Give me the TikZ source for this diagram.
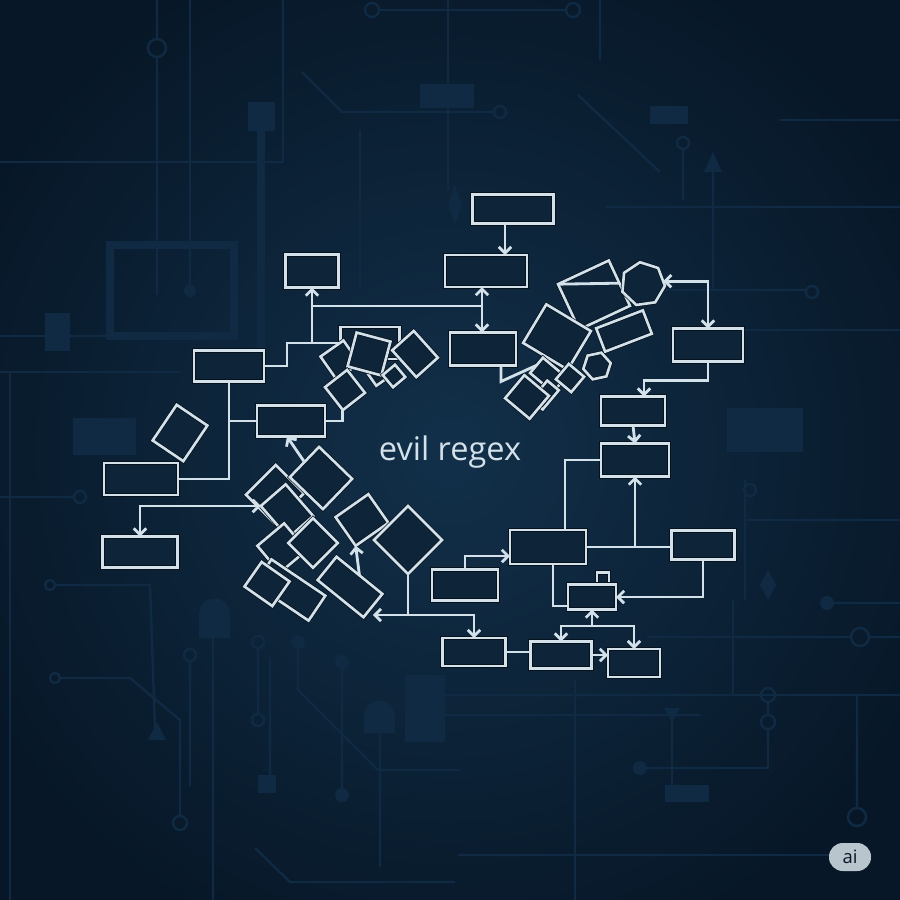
\documentclass[tikz,border=0pt]{standalone}
\usepackage{fontspec}
\setmainfont{Open Sans}
\usetikzlibrary{arrows.meta,calc,positioning,shapes.geometric}
\definecolor{bgin}{HTML}{12304A}
\definecolor{bgout}{HTML}{071727}
\definecolor{wirec}{HTML}{D3E1EA}
\definecolor{circ}{HTML}{0F2A42}
\definecolor{boxin}{HTML}{0E2439}
\definecolor{rim}{HTML}{07121D}
\definecolor{badge}{HTML}{B9C5CD}
\tikzset{wire/.style={draw=wirec, line width=1.6pt},
  arr/.style={wire, -{Straight Barb[length=3.5pt,width=7pt]}},
  darr/.style={wire, {Straight Barb[length=3.5pt,width=7pt]}-{Straight Barb[length=3.5pt,width=7pt]}},
  bx/.style 2 args={draw=rim, double=wirec, double distance=1.5pt, line width=0.4pt, fill=boxin,
    minimum width=#1*0.2mm, minimum height=#2*0.2mm, inner sep=0pt, outer sep=0pt},
  blob/.style={draw=rim, double=wirec, double distance=1.5pt, line width=0.4pt, fill=boxin,
    regular polygon, inner sep=0pt, outer sep=0pt},
  faint/.style={draw=circ, line width=1.4pt}}

\begin{document}
\begin{tikzpicture}[x=0.2mm, y=-0.2mm]
  \useasboundingbox (0,0) rectangle (900,900);
  \clip (0,0) rectangle (900,900);
  \shade[inner color=bgin, outer color=bgout] (-80,-80) rectangle (980,980);

  % faint circuit board behind
  \draw[faint] (157,0) -- (157,39) (157,56) -- (157,295) (157,48) circle[radius=9];
  \draw[faint] (190,0) -- (190,286) (0,162) -- (283,162) (283,0) -- (283,162);
  \fill[circ] (190,291) circle[radius=6];
  \draw[faint, line width=4pt] (110,245) rectangle (234,336);
  \draw[faint] (0,336) -- (108,336);
  \fill[circ] (248,102) rectangle (275,131);
  \draw[faint, line width=4pt] (261,131) -- (261,360);
  \draw[faint] (302,72) -- (342,112) -- (494,112) (500,112) circle[radius=6];
  \draw[faint] (380,10) -- (566,10) (372,10) circle[radius=7] (573,10) circle[radius=7];
  \draw[faint] (448,0) -- (448,190) (360,130) -- (360,290);
  \fill[circ] (420,84) rectangle (474,108);
  \fill[circ] (455,185) -- (462,205) -- (455,225) -- (448,205) -- cycle;
  \draw[faint] (600,0) -- (600,60) (578,95) -- (660,172) (683,150) -- (683,200) (683,143) circle[radius=6];
  \fill[circ] (650,106) rectangle (688,124);
  \fill[circ] (704,172) -- (713,152) -- (722,172) -- cycle;
  \draw[faint] (713,172) -- (713,290) (605,207) -- (900,207) (640,290) -- (805,290) (812,292) circle[radius=6];
  \draw[faint] (745,330) -- (900,330) (780,120) -- (900,120);
  \fill[circ] (727,408) rectangle (803,452);
  \fill[circ] (45,313) rectangle (70,351);
  \fill[circ] (73,418) rectangle (136,455);
  \draw[faint] (0,372) -- (180,372) (10,372) -- (10,900);
  \draw[faint] (0,497) -- (74,497) (80,497) circle[radius=6];
  \draw[faint] (56,585) -- (150,585) -- (155,728) (50,585) circle[radius=5];
  \fill[circ] (148,740) -- (157,722) -- (166,740) -- cycle;
  \draw[faint] (61,678) -- (130,678) -- (180,720) -- (180,816) (55,678) circle[radius=5] (180,823) circle[radius=7];
  \draw[faint] (213,600) -- (213,900) (190,661) -- (190,786) (190,655) circle[radius=6];
  \fill[circ] (199,638) -- (199,614) arc[start angle=180, end angle=360, radius=15.5] -- (230,638) -- cycle;
  \draw[faint] (258,648) -- (258,714) (258,642) circle[radius=6] (258,720) circle[radius=6] (270,657) -- (270,775);
  \fill[circ] (258,775) rectangle (276,793);
  \fill[circ] (298,642) circle[radius=7] (342,662) circle[radius=7] (342,795) circle[radius=7];
  \draw[faint] (298,642) -- (298,690) -- (378,770) -- (460,770) (342,662) -- (342,795);
  \fill[circ] (364,733) -- (364,716) arc[start angle=180, end angle=360, radius=15.5] -- (395,733) -- cycle;
  \draw[faint] (380,733) -- (380,867) (255,848) -- (290,882) -- (455,882);
  \fill[circ] (405,675) rectangle (445,742);
  \draw[faint] (445,695) -- (900,695) (445,715) -- (700,715);
  \draw[faint] (575,680) -- (575,900) (733,600) -- (733,695);
  \draw[faint] (647,637) -- (851,637) (860,637) circle[radius=9] (869,637) -- (900,637);
  \draw[faint] (768,702) -- (768,715) (768,729) -- (768,768) -- (640,768) (768,695) circle[radius=7] (768,722) circle[radius=7];
  \fill[circ] (640,768) circle[radius=7];
  \draw[faint] (857,695) -- (857,808) (857,817) circle[radius=9];
  \draw[faint] (672,715) -- (672,785) (600,855) -- (830,855) (458,855) -- (600,855);
  \fill[circ] (664,708) -- (680,708) -- (672,722) -- cycle;
  \fill[circ] (665,785) rectangle (709,802);
  \draw[faint] (827,603) -- (900,603) (745,480) -- (745,600) (745,520) -- (900,520) (750,490) circle[radius=6];
  \fill[circ] (827,603) circle[radius=7];
  \fill[circ] (768,570) -- (776,585) -- (768,600) -- (760,585) -- cycle;

  % boxes of the flow
  \node[bx={81}{29}] (b1) at (513,209) {};
  \node[bx={82}{32}] (b2) at (486,271) {};
  \node[bx={53}{33}] (b3) at (312,271) {};
  \node[bx={66}{33}] (b4) at (483,349) {};
  \node[bx={70}{31}] (b5) at (229,366) {};
  \node[bx={68}{31}] (b6) at (291,421) {};
  \node[bx={37}{43}, rotate=-34] (r1) at (180,433) {};
  \node[bx={74}{32}] (b7) at (141,479) {};
  \node[bx={75}{31}] (b8) at (140,552) {};

  % pile near the top
  \node[bx={59}{32}] (ca1) at (370,343) {};
  \node[bx={28}{28}, rotate=35] (ca2) at (340,360) {};
  \node[bx={14}{14}, rotate=35] (ca6) at (378,376) {};
  \node[bx={35}{35}, rotate=-15] (ca3) at (369,354) {};
  \node[bx={36}{29}, rotate=-48] (ca4) at (415,354) {};
  \node[bx={16}{16}, rotate=40] (ca5) at (394,376) {};
  \node[bx={28}{29}, rotate=38] (ca7) at (345,390) {};

  % pile lower left
  \node[bx={42}{40}, rotate=45] (cb1) at (275,494) {};
  \node[bx={46}{42}, rotate=-44] (cb2) at (321,478) {};
  \node[bx={42}{33}, rotate=-49] (cb3) at (287,511) {};
  \node[bx={35}{35}, rotate=40] (cb8) at (282,548) {};
  \node[bx={35}{35}, rotate=45] (cb4) at (313,543) {};
  \node[bx={35}{40}, rotate=-55] (cb5) at (362,520) {};
  \node[bx={48}{48}, rotate=45] (cb6) at (408,540) {};
  \node[bx={65}{30}, rotate=-34] (cb10) at (290,590) {};
  \node[bx={34}{30}, rotate=-35] (cb9) at (267,584) {};
  \node[bx={59}{30}, rotate=-39] (cb7) at (350,587) {};

  % pile upper right
  \node[bx={56}{50}, rotate=25] (cc1) at (594,295) {};
  \node[blob, regular polygon sides=7, minimum size=44*0.2mm, rotate=8] (g1) at (643,284) {};
  \node[bx={50}{25}, rotate=21] (cc3) at (624,331) {};
  \node[bx={52}{45}, rotate=-31] (cc4) at (557,337) {};
  \node[bx={30}{20}, rotate=-40] (cc6) at (548,375) {};
  \node[bx={20}{20}, rotate=-40] (cc8) at (570,378) {};
  \node[bx={15}{25}, rotate=-40] (cc7) at (545,395) {};
  \node[blob, regular polygon sides=6, minimum size=28*0.2mm, rotate=12] (cc9) at (597,366) {};
  \node[bx={30}{32}, rotate=50] (cc5) at (527,397) {};

  % right hand chain
  \node[bx={70}{33}] (b9) at (708,345) {};
  \node[bx={64}{29}] (b10) at (633,411) {};
  \node[bx={68}{33}] (b11) at (635,460) {};
  \node[bx={76}{34}] (b12) at (548,547) {};
  \node[bx={63}{29}] (b13) at (703,545) {};
  \node[bx={66}{31}] (b14) at (465,585) {};
  \node[bx={12}{13}] (tb) at (603,579) {};
  \node[bx={48}{25}] (b15) at (592,597) {};
  \node[bx={63}{28}] (bA) at (474,652) {};
  \node[bx={61}{27}] (bB) at (561,655) {};
  \node[bx={52}{28}] (bC) at (634,663) {};

  % junctions
  \coordinate (j1) at (312,306);
  \coordinate (j2) at (482,306);
  \coordinate (k1) at (287,343);
  \coordinate (q1) at (408,615);
  \coordinate (j3) at (592,626);

  % connectors
  \draw[arr] ([xshift=-1.6mm]b1.south) -- ([xshift=-1.6mm]b1.south |- b2.north);
  \draw[arr] (j1) -- (b3.south);
  \draw[wire] (j1) -- (j2);
  \draw[darr] (b2.south -| j2) -- (b4.north -| j2);
  \draw[wire] (j1) |- (k1) |- (b5.east);
  \draw[wire] (j1 |- k1) -- (ca1.west);
  \draw[wire] (b5.south) |- (b7.east);
  \draw[wire] (b6.west) -- (b6.west -| b5.south);
  \draw[wire] (b6.east) -| (ca7.south west);
  \draw[arr] (cb2.west) -- ([xshift=-0.8mm]b6.south);
  \draw[darr] (cb3.south west) -| (b8.north);
  \draw[arr] (cb7.north) -- (cb5.south east);
  \draw[wire] (cb6.south west) -- (q1);
  \draw[arr] (q1) -- (q1 -| cb7.east);
  \draw[arr] (q1) -| (bA.north);
  \draw[wire] (cc1.north west) -- (cc1.east);
  \draw[wire] ([xshift=3.6mm]b4.south) -- ++(0,16) -- (cc6.west);
  \draw[darr] (g1.east) -| (b9.north);
  \draw[arr] (b9.south) -- ++(0,19) -| ([xshift=2.2mm]b10.north);
  \draw[arr] (b10.south) -- (b11.north);
  \draw[wire] ([xshift=3.4mm]b12.north) |- (b11.west);
  \draw[wire] (b12.east) -- (b12.east -| b13.west);
  \draw[arr] (b12.east -| b11.south) -- (b11.south);
  \draw[arr] (b14.north) |- ([yshift=-1.8mm]b12.west);
  \draw[arr] (b13.south) |- (b15.east);
  \draw[wire] ([xshift=1mm]b12.south) |- ([yshift=-1.8mm]b15.west);
  \draw[wire] (bA.east) -- (bA.east -| bB.west);
  \draw[arr] (bB.east) -- (bB.east -| bC.west);
  \draw[arr] (j3) -- (b15.south);
  \draw[arr] (j3) -| (bB.north);
  \draw[arr] (j3) -| (bC.north);

  % caption and badge
  \node[text=wirec, font=\fontsize{18.5}{20}\selectfont] (title) at (450,452) {evil regex};
  \node[fill=badge, rounded corners=7.8pt, minimum width=42*0.2mm, minimum height=28*0.2mm,
    inner sep=0pt, text=bgout, font=\fontsize{10.5}{11}\selectfont] (ai) at (850,857) {ai};
\end{tikzpicture}
\end{document}
